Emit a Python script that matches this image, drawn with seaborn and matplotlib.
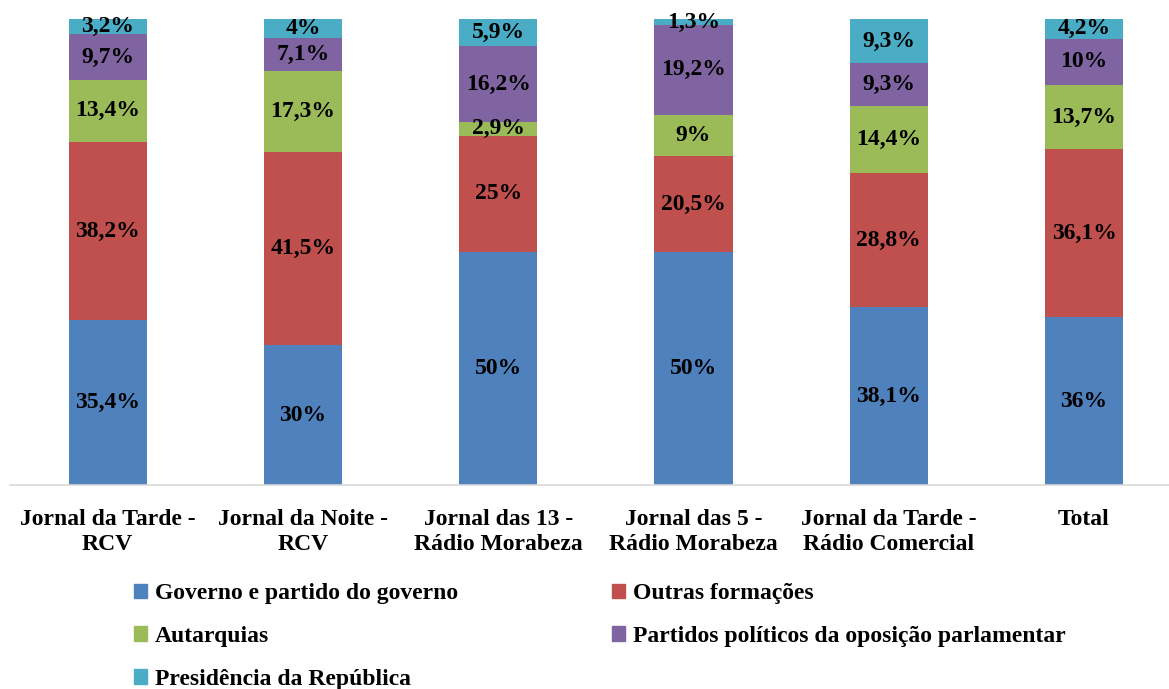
import numpy as np
import matplotlib.pyplot as plt
import seaborn as sns
from matplotlib.patches import Patch

categories = ['Jornal da Tarde -\nRCV', 'Jornal da Noite -\nRCV', 'Jornal das 13 -\nRádio Morabeza',
              'Jornal das 5 -\nRádio Morabeza', 'Jornal da Tarde -\nRádio Comercial', 'Total']

series_names = ['Governo e partido do governo', 'Outras formações', 'Autarquias',
                'Partidos políticos da oposição parlamentar', 'Presidência da República']

governo = [35.4, 30, 50, 50, 38.1, 36]
outras = [38.2, 41.5, 25, 20.5, 28.8, 36.1]
autarquias = [13.4, 17.3, 2.9, 9, 14.4, 13.7]
partidos = [9.7, 7.1, 16.2, 19.2, 9.3, 10]
presidencia = [3.2, 4, 5.9, 1.3, 9.3, 4.2]

colors = ['#4F81BD', '#C0504D', '#9BBB59', '#8064A2', '#4BACC6']

sns.set_style('white')
plt.rcParams['font.family'] = ['Liberation Serif', 'DejaVu Serif']
plt.rcParams['font.weight'] = 'bold'
plt.rcParams['text.color'] = 'black'
plt.rcParams['xtick.color'] = 'black'
plt.rcParams['xtick.labelcolor'] = 'black'

fs = 17
fig = plt.figure(figsize=(11.69, 6.89), dpi=100)
ax = fig.add_axes([10 / 1169, 1 - 485 / 689, 1 - 10 / 1169, (485 - 19) / 689])

bottom = np.zeros(len(categories))
for name, vals, col in zip(series_names, [governo, outras, autarquias, partidos, presidencia], colors):
    sns.barplot(x=categories, y=vals, bottom=bottom, color=col, width=0.4, ax=ax,
                saturation=1, linewidth=0)
    ax.bar_label(ax.containers[-1], labels=[f'{v:g}'.replace('.', ',') + '%' for v in vals],
                 label_type='center', fontsize=fs, fontweight='bold', color='black')
    bottom += np.array(vals)

ax.set_ylim(0, 100)
ax.set_xlim(-0.5, 5.435)
ax.set_yticks([])
for s in ['left', 'right', 'top']:
    ax.spines[s].set_visible(False)
ax.spines['bottom'].set_color('#D9D9D9')
ax.spines['bottom'].set_linewidth(1.2)
ax.tick_params(axis='x', length=0, pad=17, labelsize=fs, labelcolor='black')
for t in ax.get_xticklabels():
    t.set_fontweight('bold')
    t.set_linespacing(1.3)

# legend filled column-wise, so reorder to read row-wise
order = [0, 2, 4, 1, 3]
handles = [Patch(color=colors[i], label=series_names[i]) for i in order]
leg = fig.legend(handles=handles, ncol=2, loc='upper left', bbox_to_anchor=(134 / 1169, 1 - 583 / 689),
                 frameon=False, handlelength=0.55, handleheight=0.55, handletextpad=0.35,
                 labelspacing=0.93, columnspacing=6.5, borderpad=0, borderaxespad=0,
                 prop={'weight': 'bold', 'size': fs})
for t in leg.get_texts():
    t.set_color('black')

plt.savefig('out.png', dpi=100)
